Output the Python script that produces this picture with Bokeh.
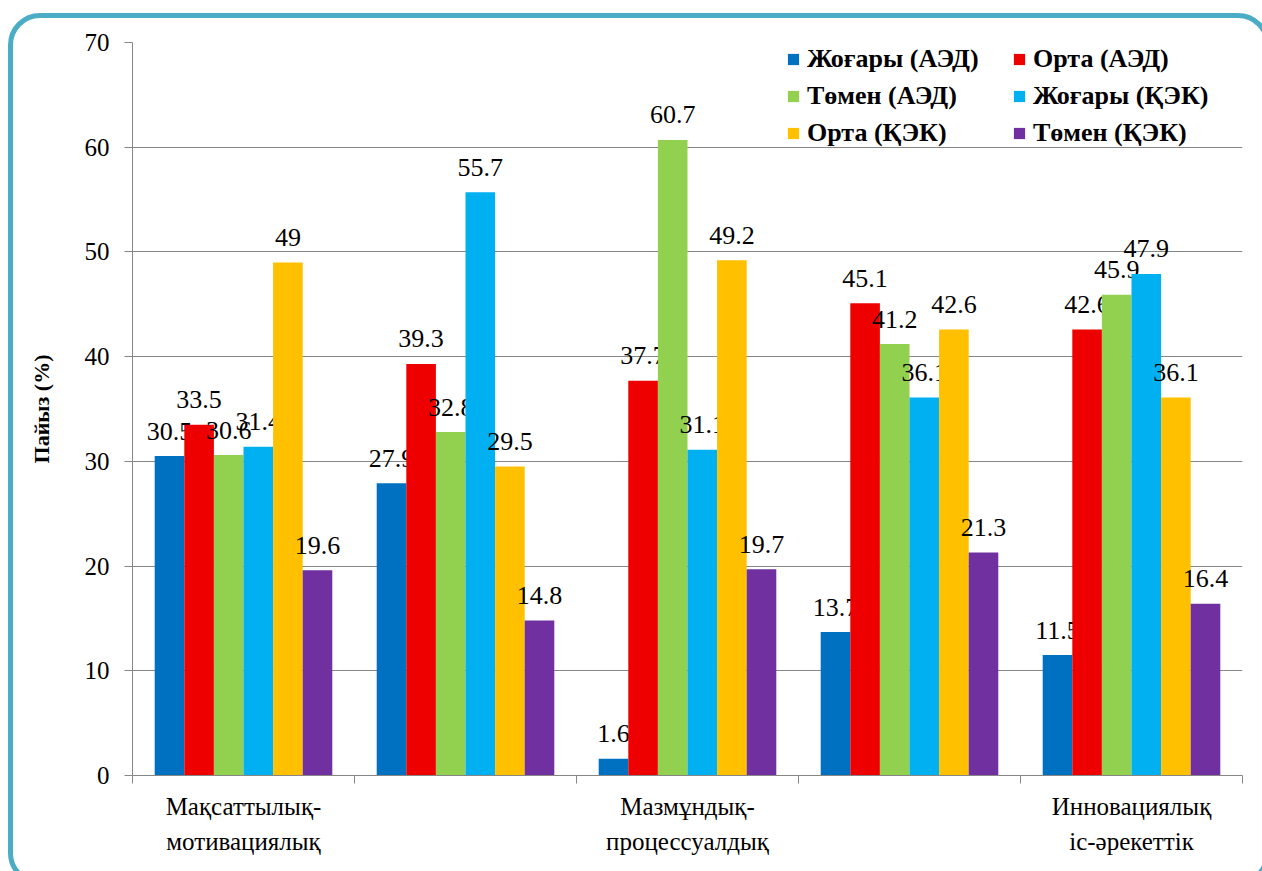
from bokeh.plotting import figure
from bokeh.models import (ColumnDataSource, FixedTicker, Legend, LegendItem,
                          Range1d, InlineStyleSheet)
from bokeh.transform import dodge
from bokeh.core.properties import value
from bokeh.embed import file_html
from bokeh.resources import INLINE

# ---------------- data ----------------
category_labels = ["Мақсаттылық-\nмотивациялық", "", "Мазмұндық-\nпроцессуалдық",
                   "", "Инновациялық\nіс-әрекеттік"]
series_names = ["Жоғары (АЭД)", "Орта (АЭД)", "Төмен (АЭД)",
                "Жоғары (ҚЭК)", "Орта (ҚЭК)", "Төмен (ҚЭК)"]
zhogary_aed = [30.5, 27.9, 1.6, 13.7, 11.5]
orta_aed = [33.5, 39.3, 37.7, 45.1, 42.6]
tomen_aed = [30.6, 32.8, 60.7, 41.2, 45.9]
zhogary_kek = [31.4, 55.7, 31.1, 36.1, 47.9]
orta_kek = [49, 29.5, 49.2, 42.6, 36.1]
tomen_kek = [19.6, 14.8, 19.7, 21.3, 16.4]
series_values = [zhogary_aed, orta_aed, tomen_aed, zhogary_kek, orta_kek, tomen_kek]
series_colors = ["#0070C0", "#EE0000", "#92D050", "#00B0F0", "#FFC000", "#7030A0"]
y_ticks = [0, 10, 20, 30, 40, 50, 60, 70]

FONT = "Liberation Serif"
GRAY = "#868686"

n_cat = len(category_labels)
p = figure(width=1262, height=871, output_backend="svg", toolbar_location=None,
           x_range=Range1d(0, n_cat), y_range=Range1d(0, 70),
           min_border_left=132, min_border_right=20, min_border_top=42,
           min_border_bottom=96)
p.outline_line_color = None
p.background_fill_color = "white"
p.border_fill_color = "white"

# rounded chart-area border (extends past the window on the right/bottom)
p.stylesheets = [InlineStyleSheet(css="""
:host { position: relative; overflow: hidden; }
:host::after {
  content: ""; position: absolute; left: 8px; top: 13px;
  width: 1262px; height: 872px; box-sizing: border-box;
  border: 5px solid #4BACC6; border-radius: 32px; pointer-events: none;
}
""")]

# axes
xa = p.xaxis[0]
centers = [i + 0.5 for i in range(n_cat)]
xa.ticker = FixedTicker(ticks=[c for c, l in zip(centers, category_labels) if l],
                        minor_ticks=list(range(n_cat + 1)))
xa.major_label_overrides = {c: l for c, l in zip(centers, category_labels) if l}
xa.major_tick_out = 0
xa.major_tick_in = 0
xa.minor_tick_out = 8
xa.minor_tick_in = 0
xa.minor_tick_line_color = GRAY
xa.axis_line_color = GRAY
xa.major_label_text_font = FONT
xa.major_label_text_font_size = "25px"
xa.major_label_text_line_height = 1.3
xa.major_label_text_color = "black"
xa.major_label_standoff = 9

ya = p.yaxis[0]
ya.ticker = FixedTicker(ticks=y_ticks)
ya.major_tick_out = 8
ya.major_tick_in = 0
ya.minor_tick_line_color = None
ya.major_tick_line_color = GRAY
ya.axis_line_color = GRAY
ya.major_label_text_font = FONT
ya.major_label_text_font_size = "25px"
ya.major_label_text_color = "black"
ya.major_label_standoff = 15
ya.axis_label = "Пайыз (%)"
ya.axis_label_text_font = FONT
ya.axis_label_text_font_size = "22px"
ya.axis_label_text_font_style = "bold"
ya.axis_label_text_color = "black"
ya.axis_label_standoff = 28

p.xgrid.grid_line_color = None
p.ygrid.grid_line_color = GRAY
p.ygrid.grid_line_width = 1

# bars
bar_w = 0.8 / len(series_names)
items = []
for j, (name, vals, col) in enumerate(zip(series_names, series_values, series_colors)):
    src = ColumnDataSource(dict(x=centers, top=vals, label=[f"{v:g}" for v in vals]))
    off = (j - (len(series_names) - 1) / 2) * bar_w
    r = p.vbar(x=dodge("x", off, range=p.x_range), top="top", width=bar_w,
               source=src, fill_color=col, line_color=None)
    p.text(x=dodge("x", off, range=p.x_range), y="top", text="label", source=src,
           text_font=value(FONT), text_font_size="26px", text_align="center",
           text_baseline="alphabetic", y_offset=-25, text_color="black")
    items.append(LegendItem(label=name, renderers=[r]))

legend = Legend(items=items, orientation="horizontal", ncols=2,
                location=(654, 627), padding=0, margin=0, spacing=6,
                label_text_font=FONT, label_text_font_size="26px",
                label_text_font_style="bold", label_text_color="black",
                glyph_width=14, glyph_height=14, label_standoff=7,
                label_width=199, label_height=31,
                border_line_color=None, background_fill_alpha=0)
p.add_layout(legend, "center")

open("out.html", "w").write(file_html(p, INLINE))
